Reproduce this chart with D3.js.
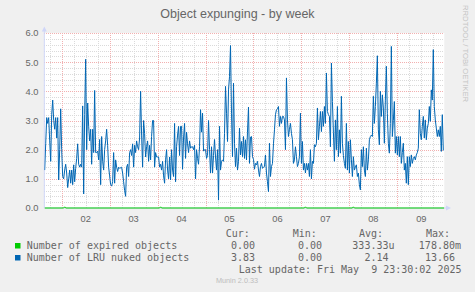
<!DOCTYPE html>
<html>
<head>
<meta charset="utf-8">
<script src="https://cdn.jsdelivr.net/npm/d3@7"></script>
<style>
  body { margin: 0; background: #f0f0f0; }
  svg { display: block; }
  text { fill: #666; }
  .legend text { white-space: pre; }
</style>
</head>
<body>
<div id="chart"></div>
<script>
// LRU nuked objects, 30 minute samples, one array per day
const may01 = [1.3, 2.2, 3.1, 2.9, 3.1, 2.3, 1.6, 3.2, 3.7, 3.0, 2.7, 3.1, 2.4, 3.1, 0.96, 2.0, 3.4];
const may02 = [2.0, 1.08, 1.0, 1.3, 1.5, 1.2, 0.7, 1.0, 1.3, 0.85, 1.3, 0.8, 1.48, 0.9, 1.36, 1.7,
  2.2, 1.5, 1.4, 1.5, 1.4, 3.5, 0.48, 3.2, 5.1, 2.0, 3.6, 2.8, 2.3, 2.7, 1.5, 2.7,
  1.9, 4.03, 1.9, 1.9, 1.95, 1.65, 2.35, 0.8, 2.45, 1.6, 1.3, 2.0, 2.3, 2.7, 2.15, 1.4];
const may03 = [1.1, 0.8, 0.75, 0.9, 1.9, 0.85, 1.65, 1.4, 1.25, 1.4, 1.36, 1.38, 1.4, 1.2, 0.9, 0.6,
  0.4, 1.4, 1.5, 1.08, 1.9, 2.0, 1.8, 2.2, 1.4, 2.15, 1.9, 2.3, 2.1, 2.0, 2.4, 4.0,
  2.5, 1.4, 3.0, 2.55, 1.75, 2.1, 2.3, 1.6, 2.15, 1.65, 2.45, 3.0, 3.0, 1.4, 1.9, 1.75];
const may04 = [1.75, 1.75, 1.4, 1.5, 1.3, 1.6, 1.1, 0.85, 1.65, 2.0, 1.3, 1.0, 1.75, 0.96, 2.0, 1.3,
  1.08, 2.9, 0.9, 2.1, 2.5, 2.8, 1.8, 2.8, 2.8, 1.33, 2.4, 2.9, 1.7, 2.6, 2.2, 1.9,
  2.3, 2.05, 2.1, 2.1, 2.0, 2.15, 1.0, 2.0, 1.7, 1.5, 2.1, 3.37, 2.6, 3.25, 1.95, 2.0];
const may05 = [2.0, 1.7, 1.8, 3.0, 2.0, 1.2, 2.1, 1.2, 1.8, 2.35, 1.75, 1.3, 2.0, 0.27, 2.8, 1.3,
  1.6, 1.65, 1.6, 2.56, 4.17, 3.25, 2.28, 4.05, 4.5, 5.57, 3.25, 1.76, 4.28, 2.22, 1.42, 2.05,
  1.3, 1.6, 2.74, 1.82, 2.28, 1.76, 2.45, 1.7, 2.34, 1.65, 2.6, 3.46, 1.53, 2.43, 2.45, 1.76];
const may06 = [1.67, 1.33, 1.53, 1.48, 1.6, 1.3, 1.08, 1.42, 1.53, 1.36, 1.4, 1.42, 1.82, 1.2, 0.9, 0.56,
  2.22, 1.08, 1.42, 1.53, 2.2, 2.68, 3.2, 3.37, 3.4, 3.48, 2.8, 3.14, 2.9, 3.14, 3.14, 3.02,
  2.0, 4.46, 3.02, 2.45, 2.7, 2.9, 2.56, 2.34, 1.53, 1.65, 2.1, 1.76, 1.42, 1.53, 1.76, 3.25];
const may07 = [1.53, 2.28, 1.3, 1.53, 1.2, 1.53, 1.3, 1.53, 1.08, 2.0, 1.0, 1.6, 1.53, 2.17, 2.1, 2.22,
  3.43, 2.34, 2.8, 3.31, 2.62, 3.31, 2.8, 3.48, 2.9, 4.63, 3.31, 3.2, 3.14, 2.1, 4.97, 3.65,
  2.6, 1.6, 3.02, 2.0, 3.48, 1.76, 2.68, 1.88, 3.83, 2.22, 1.8, 1.53, 1.36, 2.9, 1.3, 2.28];
const may08 = [1.2, 2.34, 1.65, 1.08, 1.76, 1.3, 1.4, 1.48, 1.08, 1.2, 0.8, 0.62, 2.0, 1.42, 2.1, 1.3,
  1.08, 2.05, 1.3, 1.65, 2.34, 2.45, 2.5, 2.45, 3.83, 2.9, 3.48, 4.28, 5.22, 2.68, 2.17, 4.0,
  3.14, 3.88, 3.43, 2.22, 3.7, 4.86, 3.25, 2.22, 1.88, 2.9, 5.54, 2.45, 3.0, 3.65, 1.88, 2.45];
const may09 = [1.82, 2.45, 1.76, 2.45, 1.53, 1.9, 2.22, 1.3, 1.53, 0.85, 1.76, 0.8, 1.76, 1.42, 1.82, 1.53,
  1.7, 1.76, 1.65, 1.82, 1.9, 2.05, 3.37, 2.56, 2.34, 2.8, 3.14, 2.4, 3.02, 2.34, 2.74, 2.9,
  3.48, 2.97, 4.05, 3.7, 5.43, 3.48, 3.02, 2.74, 2.45, 2.68, 2.45, 2.8, 1.94, 3.2, 1.97];

const nukedDays = [may01, may02, may03, may04, may05, may06, may07, may08, may09];
const dayStarts = [
  new Date(2025, 4, 1, 15, 30), new Date(2025, 4, 2), new Date(2025, 4, 3), new Date(2025, 4, 4),
  new Date(2025, 4, 5), new Date(2025, 4, 6), new Date(2025, 4, 7), new Date(2025, 4, 8), new Date(2025, 4, 9)
];

// expired objects: flat zero with a few tiny bumps
const expiredTimes = [
  new Date(2025, 4, 1, 15, 30),
  new Date(2025, 4, 2, 1, 0), new Date(2025, 4, 2, 1, 30), new Date(2025, 4, 2, 2, 0),
  new Date(2025, 4, 4, 1, 0), new Date(2025, 4, 4, 1, 30), new Date(2025, 4, 4, 2, 0),
  new Date(2025, 4, 7, 1, 30), new Date(2025, 4, 7, 2, 0), new Date(2025, 4, 7, 2, 30),
  new Date(2025, 4, 8, 1, 30), new Date(2025, 4, 8, 2, 0), new Date(2025, 4, 8, 2, 30),
  new Date(2025, 4, 9, 23, 30)
];
const expiredValues = [0, 0, 0.04, 0, 0, 0.04, 0, 0, 0.04, 0, 0, 0.04, 0, 0];

const yTicks = [0, 1, 2, 3, 4, 5, 6];
const seriesNames = ['Number of expired objects', 'Number of LRU nuked objects'];
const seriesColors = ['#00cc00', '#0066b3'];
const curValues = ['0.00', '3.83'];
const minValues = ['0.00', '0.00'];
const avgValues = ['333.33u', '2.14'];
const maxValues = ['178.80m', '13.66'];
const legendHeaders = ['Cur:', 'Min:', 'Avg:', 'Max:'];
const lastUpdate = 'Last update: Fri May  9 23:30:02 2025';

const width = 475;
const height = 292;
const plot = {left: 44.3, right: 444.3, top: 33, bottom: 208};
const sansFont = '"Liberation Sans", Arial, sans-serif';
const monoFont = '"DejaVu Sans Mono", monospace';

const svg = d3.select('#chart')
  .append('svg')
  .attr('width', width)
  .attr('height', height);

svg.append('rect')
  .attr('width', width)
  .attr('height', height)
  .attr('fill', '#f0f0f0');

const x = d3.scaleTime()
  .domain([new Date(2025, 4, 1, 15, 18), new Date(2025, 4, 9, 23, 30)])
  .range([plot.left, plot.right]);

const y = d3.scaleLinear()
  .domain([0, 6])
  .range([plot.bottom, plot.top]);

svg.append('rect')
  .attr('x', plot.left)
  .attr('y', plot.top)
  .attr('width', plot.right - plot.left)
  .attr('height', plot.bottom - plot.top)
  .attr('fill', '#ffffff');

// grid: minor first, then major on top
const gridGroup = svg.append('g')
  .attr('shape-rendering', 'crispEdges')
  .attr('stroke-dasharray', '1,1');

const minorY = d3.range(1, 30).map(i => i * 0.2).filter(v => Math.abs(v - Math.round(v)) > 0.01);
gridGroup.selectAll('.hminor')
  .data(minorY)
  .enter().append('line')
  .attr('class', 'hminor')
  .attr('x1', plot.left).attr('x2', plot.right)
  .attr('y1', d => Math.round(y(d)) + 0.5).attr('y2', d => Math.round(y(d)) + 0.5)
  .attr('stroke', '#dadada');

const hourTicks = d3.timeHour.every(6).range(x.domain()[0], x.domain()[1]);
gridGroup.selectAll('.vminor')
  .data(hourTicks.filter(d => d.getHours() !== 0))
  .enter().append('line')
  .attr('class', 'vminor')
  .attr('x1', d => Math.round(x(d)) + 0.5).attr('x2', d => Math.round(x(d)) + 0.5)
  .attr('y1', plot.top).attr('y2', plot.bottom)
  .attr('stroke', '#dadada');

gridGroup.selectAll('.hmajor')
  .data(yTicks.slice(1))
  .enter().append('line')
  .attr('class', 'hmajor')
  .attr('x1', plot.left).attr('x2', plot.right)
  .attr('y1', d => Math.round(y(d)) + 0.5).attr('y2', d => Math.round(y(d)) + 0.5)
  .attr('stroke', '#f2b0b0');

const dayTicks = d3.timeDay.range(x.domain()[0], x.domain()[1]);
gridGroup.selectAll('.vmajor')
  .data(dayTicks)
  .enter().append('line')
  .attr('class', 'vmajor')
  .attr('x1', d => Math.round(x(d)) + 0.5).attr('x2', d => Math.round(x(d)) + 0.5)
  .attr('y1', plot.top).attr('y2', plot.bottom)
  .attr('stroke', '#f2b0b0');

// axes
const axisColor = '#cfd6f8';
svg.append('line')
  .attr('x1', plot.left).attr('x2', plot.left)
  .attr('y1', plot.bottom).attr('y2', 30)
  .attr('stroke', axisColor);
svg.append('path')
  .attr('d', `M${plot.left - 2.5},31.5 L${plot.left},26.5 L${plot.left + 2.5},31.5 Z`)
  .attr('fill', axisColor);
svg.append('line')
  .attr('x1', plot.left).attr('x2', 448)
  .attr('y1', plot.bottom).attr('y2', plot.bottom)
  .attr('stroke', axisColor);
svg.append('path')
  .attr('d', `M446,${plot.bottom - 2.5} L451,${plot.bottom} L446,${plot.bottom + 2.5} Z`)
  .attr('fill', axisColor);

svg.append('g')
  .selectAll('text')
  .data(yTicks)
  .enter().append('text')
  .attr('x', 38.5)
  .attr('y', d => y(d) + 3.4)
  .attr('text-anchor', 'end')
  .style('font-family', sansFont)
  .style('font-size', '9.3px')
  .text(d => d3.format('.1f')(d));

svg.append('g')
  .selectAll('text')
  .data(dayTicks.filter(d => d3.timeHour.offset(d, 12) < x.domain()[1]))
  .enter().append('text')
  .attr('x', d => x(d3.timeHour.offset(d, 12)))
  .attr('y', 222)
  .attr('text-anchor', 'middle')
  .style('font-family', sansFont)
  .style('font-size', '9.3px')
  .text(d => d3.timeFormat('%d')(d));

// series
svg.append('clipPath')
  .attr('id', 'plot-clip')
  .append('rect')
  .attr('x', plot.left).attr('y', plot.top - 2)
  .attr('width', plot.right - plot.left).attr('height', plot.bottom - plot.top + 4);

const nuked = [];
nukedDays.forEach((values, i) => {
  values.forEach((v, j) => {
    nuked.push({t: d3.timeMinute.offset(dayStarts[i], j * 30), v: v});
  });
});
const expired = expiredTimes.map((t, i) => ({t: t, v: expiredValues[i]}));

const line = d3.line()
  .x(d => x(d.t))
  .y(d => y(d.v));

const seriesGroup = svg.append('g').attr('clip-path', 'url(#plot-clip)');
seriesGroup.append('path')
  .datum(nuked)
  .attr('d', line)
  .attr('fill', 'none')
  .attr('stroke', seriesColors[1])
  .attr('stroke-width', 1)
  .attr('stroke-linejoin', 'round');
seriesGroup.append('path')
  .datum(expired)
  .attr('d', line)
  .attr('fill', 'none')
  .attr('stroke', seriesColors[0])
  .attr('stroke-width', 1);

// title and watermarks
svg.append('text')
  .attr('x', 237.5)
  .attr('y', 18.3)
  .attr('text-anchor', 'middle')
  .style('font-family', sansFont)
  .style('font-size', '12.5px')
  .text('Object expunging - by week');

svg.append('text')
  .attr('transform', 'translate(462.5,5) rotate(90)')
  .style('font-family', sansFont)
  .style('font-size', '7.7px')
  .style('fill', '#c4c4c4')
  .text('RRDTOOL / TOBI OETIKER');

svg.append('text')
  .attr('x', 237)
  .attr('y', 282.5)
  .attr('text-anchor', 'middle')
  .style('font-family', sansFont)
  .style('font-size', '7.3px')
  .style('fill', '#bdbdbd')
  .text('Munin 2.0.33');

// legend
const legend = svg.append('g')
  .attr('class', 'legend')
  .style('font-family', monoFont)
  .style('font-size', '10px');

const headerX = [225.7, 292.7, 359, 426];
legend.selectAll('.header')
  .data(legendHeaders)
  .enter().append('text')
  .attr('class', 'header')
  .attr('x', (d, i) => headerX[i])
  .attr('y', 237)
  .text(d => d);

const rowY = [249, 261];
seriesNames.forEach((name, i) => {
  legend.append('rect')
    .attr('x', 15)
    .attr('y', rowY[i] - 6)
    .attr('width', 5.5)
    .attr('height', 5.5)
    .attr('fill', seriesColors[i]);
  legend.append('text')
    .attr('x', 26.7)
    .attr('y', rowY[i])
    .text(name);

  // values keep a trailing space where there is no SI suffix
  const cols = [[curValues, 261], [minValues, 328], [avgValues, 394.5], [maxValues, 461]];
  cols.forEach(([vals, end]) => {
    const v = vals[i];
    legend.append('text')
      .attr('x', end)
      .attr('y', rowY[i])
      .attr('text-anchor', 'end')
      .attr('xml:space', 'preserve')
      .text(/[a-zA-Z]$/.test(v) ? v : v + ' ');
  });
});

legend.append('text')
  .attr('x', 461.5)
  .attr('y', 273)
  .attr('text-anchor', 'end')
  .attr('xml:space', 'preserve')
  .text(lastUpdate);
</script>
</body>
</html>
